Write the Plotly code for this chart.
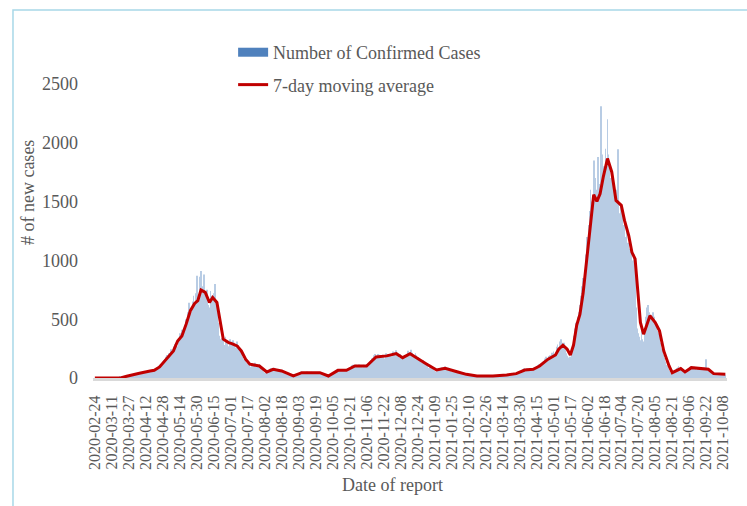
import plotly.graph_objects as go
import pandas as pd

start_date = "2020-02-24"

# daily confirmed cases, one row per week (Mon..Sun)
daily_cases = [
    0, 0, 1, 0, 2, 1, 0,
    1, 0, 2, 3, 1, 2, 1,
    2, 4, 3, 5, 4, 6, 3,
    5, 8, 7, 9, 11, 8, 10,
    11, 16, 18, 21, 25, 28, 22,
    26, 34, 37, 29, 41, 39, 33,
    36, 45, 47, 42, 52, 50, 44,
    50, 60, 63, 57, 68, 66, 58,
    60, 70, 78, 90, 104, 112, 100,
    120, 138, 150, 162, 180, 196, 175,
    210, 195, 245, 230, 268, 290, 250,
    305, 270, 340, 380, 360, 410, 350,
    390, 440, 500, 470, 560, 640, 590,
    560, 650, 700, 620, 720, 870, 640,
    700, 860, 910, 650, 780, 880, 720,
    680, 750, 620, 600, 740, 700, 680,
    720, 800, 640, 560, 470, 360, 330,
    300, 340, 320, 280, 350, 310, 290,
    270, 330, 310, 290, 320, 300, 260,
    250, 310, 280, 230, 240, 210, 180,
    160, 195, 165, 130, 140, 115, 95,
    90, 125, 118, 100, 130, 112, 96,
    95, 118, 104, 75, 68, 55, 45,
    42, 58, 50, 62, 78, 84, 72,
    62, 88, 82, 70, 74, 62, 56,
    52, 70, 56, 46, 40, 32, 26,
    22, 31, 24, 19, 15, 12, 14,
    20, 32, 36, 42, 52, 56, 50,
    38, 52, 49, 44, 55, 47, 41,
    36, 53, 48, 45, 52, 44, 43,
    39, 51, 47, 40, 34, 29, 24,
    19, 22, 15, 13, 21, 29, 36,
    39, 52, 60, 63, 71, 74, 67,
    56, 72, 69, 61, 74, 67, 60,
    63, 82, 86, 92, 108, 112, 102,
    89, 112, 109, 95, 114, 106, 96,
    92, 113, 107, 101, 118, 110, 104,
    122, 152, 168, 172, 194, 205, 188,
    162, 205, 198, 176, 194, 198, 176,
    166, 210, 204, 186, 205, 198, 182,
    182, 226, 218, 202, 236, 214, 188,
    172, 205, 188, 162, 184, 178, 162,
    182, 232, 220, 204, 240, 214, 192,
    172, 210, 194, 162, 178, 152, 132,
    122, 152, 132, 110, 118, 102, 86,
    86, 102, 92, 76, 72, 62, 56,
    56, 76, 82, 72, 88, 92, 80,
    72, 98, 92, 82, 88, 76, 66,
    56, 72, 64, 56, 52, 46, 40,
    43, 54, 46, 39, 36, 31, 27,
    27, 35, 31, 27, 25, 21, 19,
    16, 21, 20, 18, 19, 17, 15,
    14, 20, 19, 17, 19, 18, 15,
    13, 20, 19, 18, 20, 17, 15,
    17, 23, 22, 20, 24, 21, 19,
    21, 28, 27, 25, 31, 29, 26,
    29, 37, 39, 35, 43, 41, 37,
    41, 54, 60, 64, 77, 82, 72,
    64, 82, 80, 72, 85, 78, 70,
    66, 88, 93, 90, 108, 118, 108,
    102, 128, 138, 144, 165, 180, 164,
    152, 188, 194, 178, 214, 226, 204,
    200, 265, 285, 250, 310, 330, 300,
    290, 300, 260, 210, 190, 160, 175,
    180, 230, 290, 360, 420, 470, 430,
    520, 560, 620, 700, 780, 850, 820,
    900, 1050, 1200, 1300, 1420, 1600, 1500,
    1550, 1850, 1700, 1400, 1600, 1880, 1500,
    1650, 2310, 1900, 1750, 1800, 1950, 1850,
    2200, 1900, 1800, 1700, 1650, 1600, 1550,
    1500, 1450, 1600, 1945, 1400, 1350, 1480,
    1420, 1300, 1380, 1200, 1250, 1150, 1100,
    1050, 1120, 980, 1000, 1050, 950, 600,
    420, 380, 350, 320, 400, 330, 310,
    420, 520, 600, 620, 560, 540, 500,
    480, 560, 520, 450, 470, 400, 380,
    360, 300, 250, 200, 170, 140, 110,
    100, 80, 60, 45, 40, 38, 50,
    60, 70, 85, 90, 100, 80, 75,
    60, 55, 45, 50, 60, 70, 75,
    85, 95, 100, 90, 80, 95, 85,
    70, 80, 90, 75, 85, 65, 80,
    90, 70, 160, 75, 60, 55, 50,
    40, 35, 30, 32, 28, 34, 30,
    31, 29, 33, 30, 28, 32, 30,
]

# 7-day moving average
ma_dates = [
    "2020-02-24", "2020-03-20", "2020-03-25", "2020-03-31", "2020-04-06",
    "2020-04-16", "2020-04-20", "2020-04-25", "2020-05-01", "2020-05-08",
    "2020-05-12", "2020-05-16", "2020-05-20", "2020-05-24", "2020-05-28",
    "2020-05-31", "2020-06-03", "2020-06-07", "2020-06-11", "2020-06-14",
    "2020-06-18", "2020-06-21", "2020-06-24", "2020-06-29", "2020-07-02",
    "2020-07-07", "2020-07-11", "2020-07-15", "2020-07-19", "2020-07-28",
    "2020-08-04", "2020-08-10", "2020-08-18", "2020-08-29", "2020-09-06",
    "2020-09-23", "2020-10-01", "2020-10-10", "2020-10-18", "2020-10-26",
    "2020-11-06", "2020-11-15", "2020-11-25", "2020-12-04", "2020-12-10",
    "2020-12-17", "2020-12-26", "2021-01-01", "2021-01-11", "2021-01-19",
    "2021-01-31", "2021-02-08", "2021-02-18", "2021-03-05", "2021-03-18",
    "2021-03-27", "2021-04-04", "2021-04-12", "2021-04-18", "2021-04-26",
    "2021-05-03", "2021-05-06", "2021-05-10", "2021-05-14", "2021-05-17",
    "2021-05-20", "2021-05-23", "2021-05-26", "2021-05-29", "2021-06-01",
    "2021-06-03", "2021-06-06", "2021-06-08", "2021-06-11", "2021-06-14",
    "2021-06-17", "2021-06-21", "2021-06-25", "2021-06-29", "2021-07-04",
    "2021-07-07", "2021-07-11", "2021-07-14", "2021-07-17", "2021-07-22",
    "2021-07-25", "2021-07-31", "2021-08-05", "2021-08-09", "2021-08-13",
    "2021-08-18", "2021-08-21", "2021-08-29", "2021-09-02", "2021-09-08",
    "2021-09-24", "2021-09-29", "2021-10-10",
]
ma_values = [
    0, 3, 15, 30, 40,
    60, 65, 94, 160, 230,
    315, 358, 458, 572, 634,
    657, 748, 728, 642, 685,
    642, 486, 330, 301, 293,
    273, 230, 160, 117, 102,
    51, 74, 60, 17, 45,
    45, 17, 65, 65, 102,
    102, 179, 188, 207, 173,
    207, 160, 122, 68, 83,
    51, 31, 17, 17, 26,
    37, 68, 74, 102, 160,
    196, 245, 279, 245, 195,
    280, 450, 540, 720, 970,
    1180, 1400, 1560, 1502, 1567,
    1709, 1866, 1752, 1510, 1468,
    1340, 1212, 1069, 1013, 472,
    373, 529, 472, 401, 230,
    102, 45, 80, 51, 88,
    74, 37, 31,
]

y_ticks = [0, 500, 1000, 1500, 2000, 2500]
x_tick_step_days = 16

dates = pd.date_range(start_date, periods=len(daily_cases), freq="D")

FONT = "Liberation Serif, Times New Roman, serif"
GREY = "#595959"

fig = go.Figure()
fig.add_trace(go.Bar(
    x=dates, y=daily_cases, name="Number of Confirmed Cases",
    marker=dict(color="#b8cce4", line=dict(width=0)),
    showlegend=False,
))
fig.add_trace(go.Scatter(
    x=[None], y=[None], mode="lines", name="Number of Confirmed Cases",
    line=dict(color="#4f81bd", width=9), legendgroup="a",
))
fig.add_trace(go.Scatter(
    x=ma_dates, y=ma_values, mode="lines", name="7-day moving average",
    line=dict(color="#c00000", width=3), legendgroup="b",
))

fig.update_layout(
    width=747, height=506,
    margin=dict(l=93, r=20, t=84, b=128),
    paper_bgcolor="white", plot_bgcolor="white",
    font=dict(family=FONT, color=GREY, size=18),
    bargap=0.3,
    showlegend=True,
    legend=dict(
        x=0.221, y=1.17, xanchor="left", yanchor="top",
        font=dict(family=FONT, size=18, color=GREY),
        traceorder="grouped", tracegroupgap=6,
        bgcolor="rgba(0,0,0,0)",
    ),
    xaxis=dict(
        type="date",
        range=["2020-02-22 06:00", "2021-10-11 14:00"],
        tick0=start_date, dtick=x_tick_step_days * 86400000,
        tickformat="%Y-%m-%d", tickangle=-90,
        tickfont=dict(family=FONT, size=16, color=GREY),
        showline=True, linecolor="#d9d9d9", linewidth=3,
        showgrid=False, zeroline=False, ticks="", ticklabelstandoff=8,
    ),
    yaxis=dict(
        range=[0, 2500], tickvals=y_ticks,
        tickfont=dict(family=FONT, size=18, color=GREY),
        showline=False, showgrid=False, zeroline=False,
        ticks="", ticklabelstandoff=14,
    ),
    annotations=[
        dict(text="# of new cases", xref="paper", yref="paper",
             x=-0.1025, y=0.629, xanchor="center", yanchor="middle",
             textangle=-90, showarrow=False,
             font=dict(family=FONT, size=18, color=GREY)),
        dict(text="Date of report", xref="paper", yref="paper",
             x=0.473, y=-0.364, xanchor="center", yanchor="middle",
             showarrow=False,
             font=dict(family=FONT, size=18, color=GREY)),
    ],
    shapes=[
        dict(type="rect", xref="paper", yref="paper",
             x0=-0.1262, x1=1.06, y0=-0.5, y1=1.2517,
             line=dict(color="#a8d8e8", width=1.5), fillcolor="rgba(0,0,0,0)",
             layer="below"),
    ],
)

fig.write_html("out.html", config={"displayModeBar": False},
               post_script="document.body.style.margin='0';")
